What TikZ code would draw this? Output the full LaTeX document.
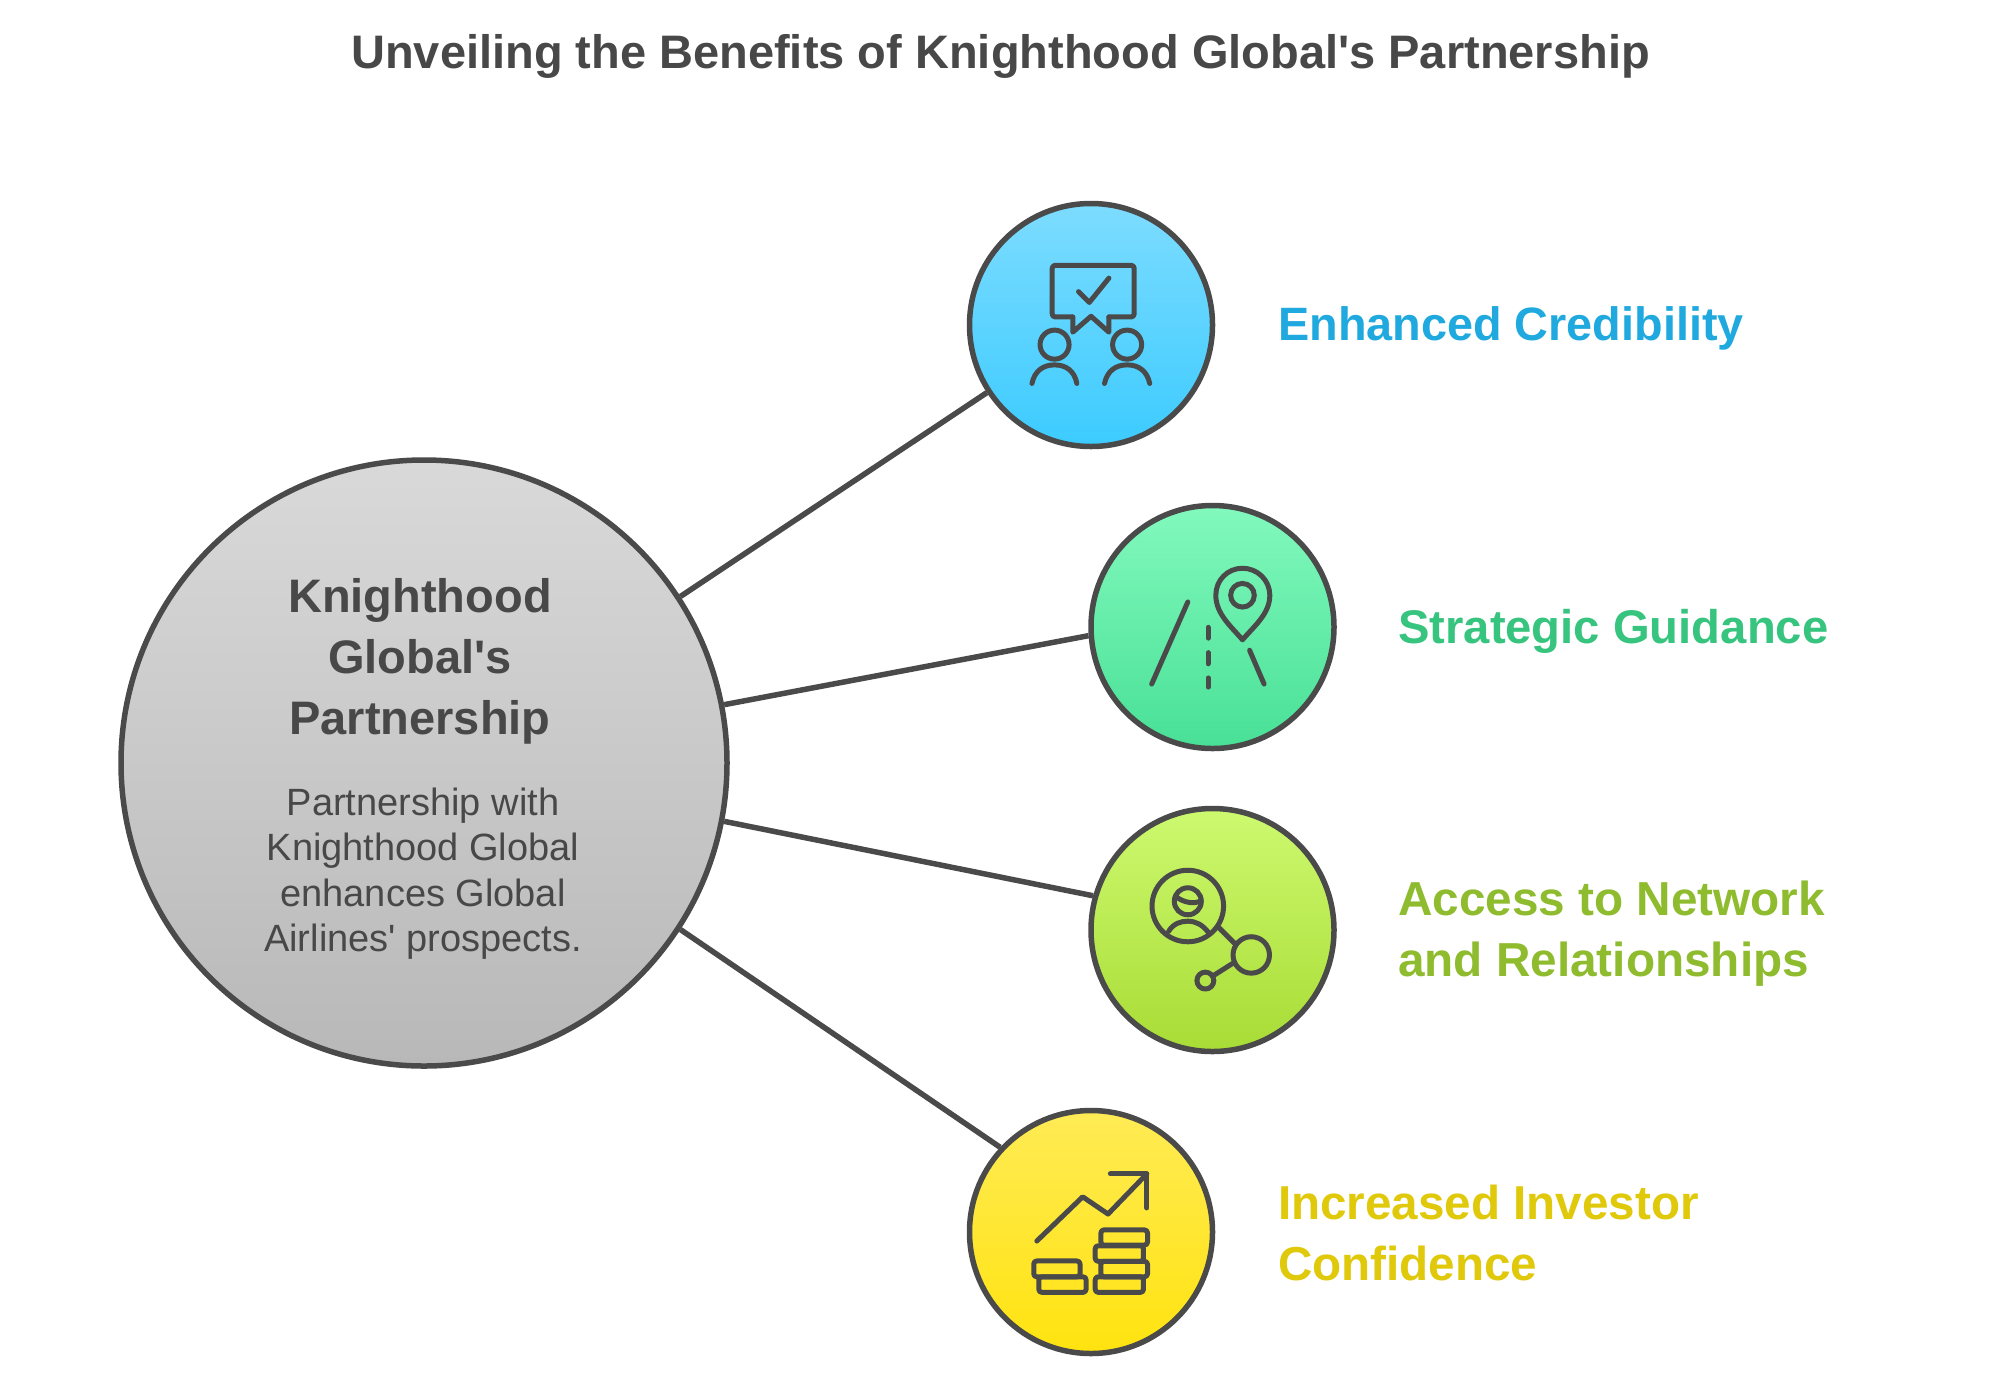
\documentclass[tikz,border=0pt]{standalone}
\usepackage{fontspec}
\setmainfont{Liberation Sans}[Ligatures=TeXOff]
\definecolor{ink}{HTML}{4A4A4A}
\definecolor{txt}{HTML}{484848}
\definecolor{bluetop}{HTML}{7DDCFF}\definecolor{bluebot}{HTML}{3CCBFF}
\definecolor{greentop}{HTML}{82F9BD}\definecolor{greenbot}{HTML}{48E096}
\definecolor{limetop}{HTML}{CDF96F}\definecolor{limebot}{HTML}{A8DC35}
\definecolor{yellowtop}{HTML}{FFEB55}\definecolor{yellowbot}{HTML}{FFE30F}
\definecolor{greytop}{HTML}{D9D9D9}\definecolor{greybot}{HTML}{B8B8B8}
\definecolor{bluetxt}{HTML}{1FA9DE}\definecolor{greentxt}{HTML}{36C47E}
\definecolor{limetxt}{HTML}{8FBB2E}\definecolor{yellowtxt}{HTML}{E0C80A}
\tikzset{
  bubble/.style={circle,draw=ink,line width=5.5pt,inner sep=0pt,minimum size=#1},
  link/.style={draw=ink,line width=5.5pt},
  glyph/.style={draw=ink,line width=5pt,line cap=round,line join=round},
  titletext/.style={font=\fontsize{47}{56}\selectfont\bfseries,text=txt,inner sep=0pt},
  headtext/.style={font=\fontsize{47}{61}\selectfont\bfseries,text=txt,align=center,inner sep=0pt},
  desctext/.style={font=\fontsize{38}{45.5}\selectfont,text=txt,align=center,inner sep=0pt},
  labeltext/.style={font=\fontsize{#1}{61}\selectfont\bfseries,align=left,anchor=west,inner sep=0pt},
  zoomed/.style={shift={#1},x=0.3375pt,y=-0.3375pt},
}
\begin{document}
\begin{tikzpicture}[x=1pt,y=-1pt]
\useasboundingbox (0,0) rectangle (1999,1382);
\node[titletext] (title) at (1000.5,56) {Unveiling the Benefits of Knighthood Global's Partnership};

\node[bubble=606pt,top color=greytop,bottom color=greybot] (hub) at (424,763) {};
\node[bubble=243pt,top color=bluetop,bottom color=bluebot] (cred) at (1091,325) {};
\node[bubble=243pt,top color=greentop,bottom color=greenbot] (guide) at (1212.5,627) {};
\node[bubble=243pt,top color=limetop,bottom color=limebot] (net) at (1212.5,930) {};
\node[bubble=243pt,top color=yellowtop,bottom color=yellowbot] (inv) at (1091,1232) {};

\draw[link] (hub.33.3) -- (cred.213.7);
\draw[link] (hub.11) -- (guide.184.6);
\draw[link] (hub.-11) -- (net.164);
\draw[link] (hub.-33.3) -- (inv.137);

\node[headtext] (hubhead) at (420,661) {Knighthood\\Global's\\Partnership};
\node[desctext] (hubdesc) at (423,873.5) {Partnership with\\Knighthood Global\\enhances Global\\Airlines' prospects.};

\node[labeltext=46.8,text=bluetxt] (credlabel) at (1278,328) {Enhanced Credibility};
\node[labeltext=47.2,text=greentxt] (guidelabel) at (1398,631) {Strategic Guidance};
\node[labeltext=47.7,text=limetxt] (netlabel) at (1398,933.5) {Access to Network\\and Relationships};
\node[labeltext=47.6,text=yellowtxt] (invlabel) at (1278,1232.5) {Increased Investor\\Confidence};

% icon: credibility
\begin{scope}[zoomed={(958.7,188.7)}]
  \draw[glyph,rounded corners=3pt] (338,380) -- (277,380) -- (277,227) -- (520,227) -- (520,380) -- (445,380);
  \draw[glyph] (338,380) -- (338,425) -- (392,378) -- (445,425) -- (445,380);
  \draw[glyph] (355,305) -- (387,337) -- (445,265);
  \draw[glyph] (284,462) circle [radius=43];
  \draw[glyph] (499,462) circle [radius=43];
  \draw[glyph] (217,577) .. controls (225,540) and (250,522) .. (284,522) .. controls (318,522) and (343,540) .. (350,577);
  \draw[glyph] (432,577) .. controls (440,540) and (465,522) .. (499,522) .. controls (533,522) and (558,540) .. (566,577);
\end{scope}

% icon: guidance
\begin{scope}[zoomed={(1082.5,494)}]
  \draw[glyph] (205,563) -- (312,320);
  \draw[glyph] (372,395) -- (372,427);
  \draw[glyph] (372,470) -- (372,503);
  \draw[glyph] (372,545) -- (372,572);
  \draw[glyph] (495,463) -- (538,563);
  \draw[glyph] (474,300) circle [radius=35];
  \draw[glyph] (474,432) .. controls (440,392) and (395,355) .. (395,300) .. controls (395,255) and (430,220) .. (474,220) .. controls (518,220) and (555,255) .. (555,300) .. controls (555,355) and (508,392) .. (474,432) -- cycle;
\end{scope}

% icon: network
\begin{scope}[zoomed={(1082.5,798)}]
  \draw[glyph] (312,320) circle [radius=106];
  \draw[glyph] (312,306) circle [radius=40];
  \draw[glyph] (278,293) .. controls (300,310) and (330,315) .. (350,305);
  \draw[glyph] (255,395) .. controls (270,372) and (290,365) .. (312,365) .. controls (335,365) and (355,375) .. (372,397);
  \draw[glyph] (405,385) -- (450,430);
  \draw[glyph] (500,465) circle [radius=54];
  \draw[glyph] (445,490) -- (385,528);
  \draw[glyph] (364,541) circle [radius=25];
\end{scope}

% icon: investor
\begin{scope}[zoomed={(958.5,1104)}]
  \draw[glyph] (232,406) -- (368,275) -- (443,326) -- (558,207);
  \draw[glyph] (450,207) -- (558,207) -- (558,308);
  \draw[glyph,rounded corners=3pt] (422,373) rectangle (560,418);
  \draw[glyph,rounded corners=3pt] (405,420) rectangle (548,466);
  \draw[glyph,rounded corners=3pt] (422,466) rectangle (560,512);
  \draw[glyph,rounded corners=3pt] (405,512) rectangle (548,558);
  \draw[glyph,rounded corners=3pt] (223,465) rectangle (360,512);
  \draw[glyph,rounded corners=3pt] (238,512) rectangle (378,558);
\end{scope}
\end{tikzpicture}
\end{document}
